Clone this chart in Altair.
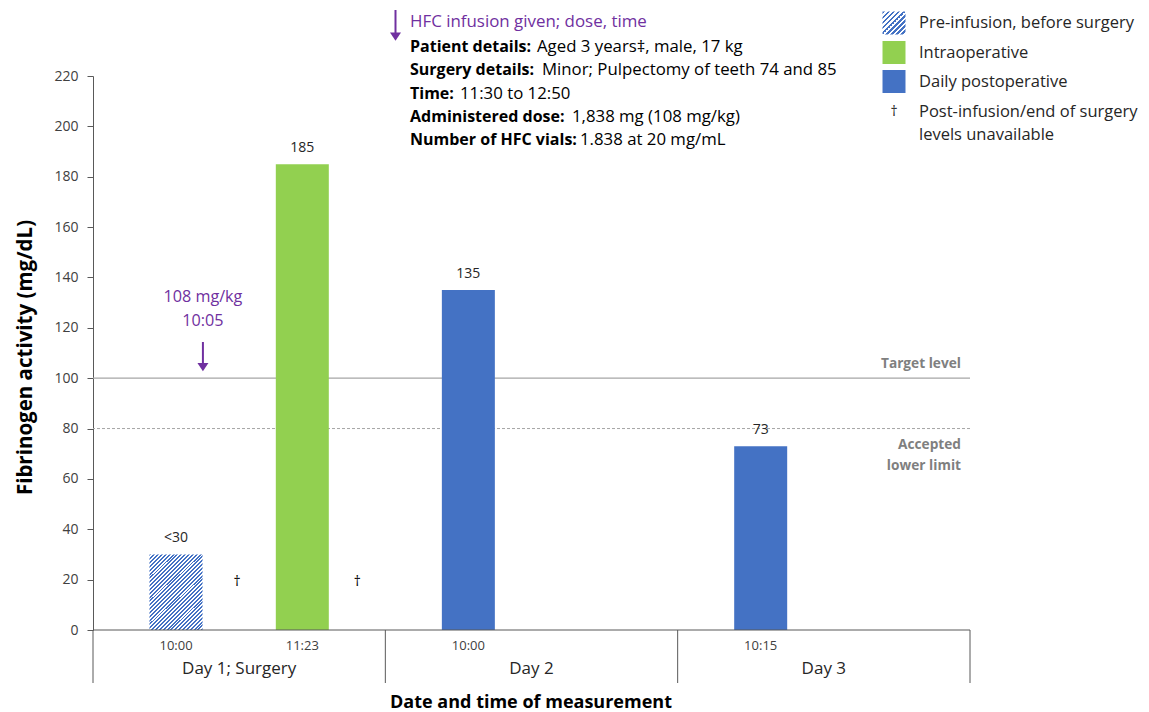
import altair as alt
import pandas as pd

# ---------------- data ----------------
days = ["Day 1; Surgery", "Day 2", "Day 3"]
day_centers = [0.5, 1.5, 2.5]
day_edges = [0, 1, 2, 3]
bar_pos = [0.284, 0.716, 1.284, 2.284]
bar_values = [30, 185, 135, 73]
bar_labels = ["<30", "185", "135", "73"]
bar_times = ["10:00", "11:23", "10:00", "10:15"]
bar_kinds = ["Pre-infusion, before surgery", "Intraoperative",
             "Daily postoperative", "Daily postoperative"]
dagger_pos = [0.493, 0.904]
dagger_level = [19, 19]
ref_values = [100, 80]
y_ticks = list(range(0, 221, 20))
legend_labels = ["Pre-infusion, before surgery", "Intraoperative", "Daily postoperative"]
infusion_note = ["108 mg/kg", "10:05"]
infusion_pos = 0.376
details_bold = ["Patient details:", "Surgery details:", "Time:",
                "Administered dose:", "Number of HFC vials:"]
details_text = ["Aged 3 years\u2021, male, 17 kg", "Minor; Pulpectomy of teeth 74 and 85",
                "11:30 to 12:50", "1,838 mg (108 mg/kg)", "1.838 at 20 mg/mL"]

# ---------------- style ----------------
FONT = "Open Sans"
BLUE = "#4472C4"
GREEN = "#92D050"
PURPLE = "#7030A0"
GREY = "#A6A6A6"
AX = "#595959"
W, H = 877, 554
OX, OY = 93, 76


def px(x):
    return x - OX


def py(y):
    return y - OY


def hatch(n, x2, y2):
    stops = []
    for i in range(n):
        a, b, c = i / n, (i + 0.5) / n, (i + 1) / n
        stops += [{"offset": a, "color": BLUE}, {"offset": b, "color": BLUE},
                  {"offset": b, "color": "#ffffff"}, {"offset": c, "color": "#ffffff"}]
    return {"gradient": "linear", "x1": 0, "y1": 0, "x2": x2, "y2": y2, "stops": stops}


xscale = alt.Scale(domain=[0, 3], nice=False, zero=False, padding=0)
yscale = alt.Scale(domain=[0, 220], nice=False)
yaxis = alt.Axis(values=y_ticks, grid=False, domainColor=AX, tickColor=AX, labelColor="#404040",
                 labelFont=FONT, labelFontSize=14, tickSize=6, labelPadding=9,
                 title="Fibrinogen activity (mg/dL)", titleFont=FONT, titleFontSize=20.5,
                 titleFontWeight="bold", titleColor="#000000", titleAngle=270,
                 titleAlign="center", titleBaseline="middle", titleX=-68, titleY=H / 2 + 4)


def X(field):
    return alt.X(field, type="quantitative", scale=xscale, axis=None)


def Y(field):
    return alt.Y(field, type="quantitative", scale=yscale, axis=yaxis)


def label(text, x, y, size=16, weight="normal", color="#000000", align="left"):
    return alt.Chart(pd.DataFrame({"t": [text]})).mark_text(
        align=align, baseline="middle", font=FONT, fontSize=size, fontWeight=weight, color=color
    ).encode(x=alt.value(px(x)), y=alt.value(py(y)), text="t:N")


bars = pd.DataFrame({"pos": bar_pos, "value": bar_values, "label": bar_labels,
                     "time": bar_times, "kind": bar_kinds})

base = alt.Chart(bars)

hatched = base.transform_filter(alt.datum.kind == bar_kinds[0]).mark_bar(
    size=53, orient="vertical", fill=hatch(42, 1, 1.434), strokeWidth=0
).encode(x=X("pos"), y=Y("value"))

solid = base.transform_filter(alt.datum.kind != bar_kinds[0]).mark_bar(
    size=53, orient="vertical"
).encode(
    x=X("pos"), y=Y("value"),
    color=alt.Color("kind:N", scale=alt.Scale(domain=legend_labels[1:], range=[GREEN, BLUE]), legend=None),
)

bar_text = base.mark_text(font=FONT, fontSize=14, color="#262626", dy=-16, baseline="middle").encode(
    x=X("pos"), y=Y("value"), text="label:N")

time_text = base.mark_text(font=FONT, fontSize=13, color="#404040", baseline="middle").encode(
    x=X("pos"), y=alt.value(py(646)), text="time:N")

daydf = pd.DataFrame({"c": day_centers, "day": days})
day_text = alt.Chart(daydf).mark_text(font=FONT, fontSize=17, color="#262626", baseline="middle").encode(
    x=X("c"), y=alt.value(py(669)), text="day:N")

edges = alt.Chart(pd.DataFrame({"e": day_edges})).mark_rule(color=AX, strokeWidth=1).encode(
    x=X("e"), y=alt.value(py(630)), y2=alt.value(py(683)))

baseline = alt.Chart(pd.DataFrame({"v": [0]})).mark_rule(color=AX, strokeWidth=1).encode(y=Y("v"))

target = alt.Chart(pd.DataFrame({"v": [ref_values[0]]})).mark_rule(color=GREY, strokeWidth=1.2).encode(y=Y("v"))
lower = alt.Chart(pd.DataFrame({"v": [ref_values[1]]})).mark_rule(
    color=GREY, strokeWidth=1, strokeDash=[3, 2]).encode(y=Y("v"))

ref_style = dict(font=FONT, fontSize=13.7, fontWeight="bold", color="#7F7F7F", align="right", baseline="middle")
refl = alt.Chart(pd.DataFrame({"v": [ref_values[0]]})).mark_text(dy=-14, **ref_style).encode(
    x=alt.value(px(961)), y=Y("v"), text=alt.value("Target level"))
refl2 = alt.Chart(pd.DataFrame({"v": [ref_values[1]]})).mark_text(dy=16, **ref_style).encode(
    x=alt.value(px(961)), y=Y("v"), text=alt.value("Accepted"))
refl3 = alt.Chart(pd.DataFrame({"v": [ref_values[1]]})).mark_text(dy=37, **ref_style).encode(
    x=alt.value(px(961)), y=Y("v"), text=alt.value("lower limit"))

daggers = alt.Chart(pd.DataFrame({"p": dagger_pos, "v": dagger_level})).mark_text(
    font=FONT, fontSize=14, color="#000000", baseline="middle", text="\u2020"
).encode(x=X("p"), y=Y("v"))

# infusion annotation
inf1 = alt.Chart(pd.DataFrame({"p": [infusion_pos], "t": [infusion_note[0]]})).mark_text(
    font=FONT, fontSize=16.2, color=PURPLE, baseline="middle").encode(x=X("p"), y=alt.value(py(297)), text="t:N")
inf2 = alt.Chart(pd.DataFrame({"p": [infusion_pos], "t": [infusion_note[1]]})).mark_text(
    font=FONT, fontSize=16.2, color=PURPLE, baseline="middle").encode(x=X("p"), y=alt.value(py(321)), text="t:N")
inf_shaft = alt.Chart(pd.DataFrame({"p": [infusion_pos]})).mark_rule(color=PURPLE, strokeWidth=2).encode(
    x=X("p"), y=alt.value(py(342)), y2=alt.value(py(366)))
ARROW = "M-1,-0.75L1,-0.75L0,0.75Z"
inf_head = alt.Chart(pd.DataFrame({"p": [infusion_pos]})).mark_point(
    shape=ARROW, filled=True, size=121, color=PURPLE, opacity=1).encode(x=X("p"), y=alt.value(py(367)))

# top annotation
top_shaft = alt.Chart(pd.DataFrame({"a": [0]})).mark_rule(color=PURPLE, strokeWidth=2).encode(
    x=alt.value(px(395.5)), y=alt.value(py(10)), y2=alt.value(py(33)))
top_head = alt.Chart(pd.DataFrame({"a": [0]})).mark_point(
    shape=ARROW, filled=True, size=121, color=PURPLE, opacity=1).encode(
    x=alt.value(px(395.5)), y=alt.value(py(36.5)))
top_title = label("HFC infusion given; dose, time", 410, 22, size=16.9, color=PURPLE)

detail_y = [46.5, 70, 93.5, 116.5, 140]
detail_x2 = [537, 542, 460, 572, 580]
detail_layers = []
for b, t, yy, xx in zip(details_bold, details_text, detail_y, detail_x2):
    detail_layers.append(label(b, 410, yy, size=16, weight="bold"))
    detail_layers.append(label(t, xx, yy, size=16.8))

# legend
leg_y = [23, 52.5, 81.5]
leg_layers = []
leg_fills = [hatch(9, 1, 1), GREEN, BLUE]
for lab, yy, f in zip(legend_labels, leg_y, leg_fills):
    leg_layers.append(alt.Chart(pd.DataFrame({"a": [0]})).mark_square(
        size=23 * 23, fill=f, opacity=1, strokeWidth=0).encode(
        x=alt.value(px(894)), y=alt.value(py(yy))))
    leg_layers.append(label(lab, 919, yy, size=16.5, color="#262626"))
leg_layers.append(label("\u2020", 894, 112, size=14, color="#262626", align="center"))
leg_layers.append(label("Post-infusion/end of surgery", 919, 112, size=16.5, color="#262626"))
leg_layers.append(label("levels unavailable", 919, 135, size=16.5, color="#262626"))

xtitle = label("Date and time of measurement", 531, 703, size=18, weight="bold", align="center")

chart = alt.layer(
    target, lower, hatched, solid, baseline, edges, bar_text, time_text, day_text, refl, refl2, refl3,
    daggers, inf1, inf2, inf_shaft, inf_head, top_shaft, top_head, top_title,
    *detail_layers, *leg_layers, xtitle
).properties(
    width=W, height=H,
    background="white",
    autosize=alt.AutoSizeParams(type="none"),
    padding={"left": OX - 8, "top": OY - 8, "right": 170, "bottom": 82},
).configure_view(strokeWidth=0, stroke="transparent")

chart.save("out.html", embed_options={"renderer": "svg", "actions": False})
